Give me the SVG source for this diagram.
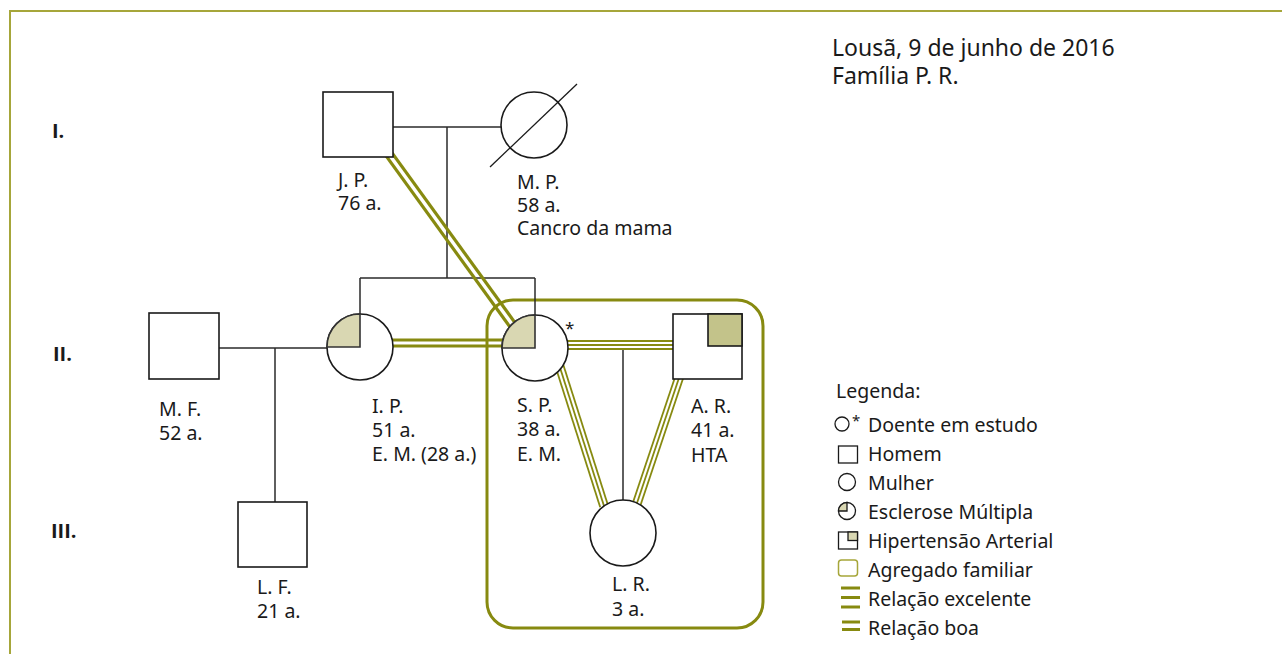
<svg xmlns="http://www.w3.org/2000/svg" width="1282" height="654" viewBox="0 0 1282 654">
<style>
text{font-family:"Noto Sans","Open Sans",sans-serif;font-size:19.5px;fill:#1a1a1a}
.gen{font-family:"Open Sans","Liberation Sans",sans-serif;font-size:20px;font-weight:bold}
.title{font-size:23px}
.fam{stroke:#2a2a2a;stroke-width:1.5;fill:none}
.nd{fill:#fff;stroke:#1a1a1a;stroke-width:1.6}
.ms{fill:#d9d7b2;stroke:#333;stroke-width:1.6}
.hta{fill:#c3c38a;stroke:#1a1a1a;stroke-width:1.6}
.boa{stroke:#878a10;stroke-width:3.2;fill:none}
.exc{stroke:#878a10;stroke-width:1.8;fill:none}
.hh{fill:none;stroke:#878a10;stroke-width:3}
</style>
<g id="frame">
<line x1="10" y1="11" x2="1282" y2="11" stroke="#a6a63a" stroke-width="2"/>
<line x1="10" y1="10" x2="10" y2="654" stroke="#a6a63a" stroke-width="2"/>
</g>
<g id="labels">
<text class="gen" x="52" y="138">I.</text>
<text class="gen" x="53" y="361">II.</text>
<text class="gen" x="51" y="538">III.</text>
<text class="title" x="832" y="56">Lousã, 9 de junho de 2016</text>
<text class="title" x="832" y="84">Família P. R.</text>
</g>
<g id="household">
<rect class="hh" x="487" y="300" width="276" height="328" rx="26"/>
</g>
<g id="connectors">
<polyline class="fam" points="393,127 501,127"/>
<polyline class="fam" points="447,127 447,278"/>
<polyline class="fam" points="360,278 535,278"/>
<polyline class="fam" points="360,278 360,320"/>
<polyline class="fam" points="535,278 535,320"/>
<polyline class="fam" points="219,348 327,348"/>
<polyline class="fam" points="275,348 275,502"/>
<polyline class="fam" points="623,349 623,503"/>
<line class="boa" x1="385.7" y1="144.1" x2="516.7" y2="325.1"/>
<line class="boa" x1="380.3" y1="147.9" x2="511.3" y2="328.9"/>
<line class="boa" x1="380" y1="340" x2="515" y2="340"/>
<line class="boa" x1="380" y1="346" x2="515" y2="346"/>
<line class="exc" x1="560" y1="341" x2="680" y2="341"/>
<line class="exc" x1="560" y1="345" x2="680" y2="345"/>
<line class="exc" x1="560" y1="349" x2="680" y2="349"/>
<line class="exc" x1="556" y1="355" x2="604" y2="506"/>
<line class="exc" x1="559.8" y1="353.8" x2="607.8" y2="504.8"/>
<line class="exc" x1="552.2" y1="356.2" x2="600.2" y2="507.2"/>
<line class="exc" x1="681" y1="372" x2="636" y2="506"/>
<line class="exc" x1="684.8" y1="373.3" x2="639.8" y2="507.3"/>
<line class="exc" x1="677.2" y1="370.7" x2="632.2" y2="504.7"/>
</g>
<g id="JP">
<rect class="nd" x="323" y="92" width="70" height="65"/>
<text x="338" y="187">J. P.</text>
<text x="338" y="210">76 a.</text>
</g>
<g id="MP">
<circle class="nd" cx="534" cy="125" r="33"/>
<line x1="490" y1="167" x2="577" y2="84" stroke="#1a1a1a" stroke-width="1.3"/>
<text x="517" y="189">M. P.</text>
<text x="517" y="212">58 a.</text>
<text x="517" y="235">Cancro da mama</text>
</g>
<g id="MF">
<rect class="nd" x="149" y="313" width="70" height="66"/>
<text x="159" y="416">M. F.</text>
<text x="159" y="440">52 a.</text>
</g>
<g id="IP">
<circle class="nd" cx="360" cy="347" r="33"/>
<path class="ms" d="M360,347 L360,314 A33,33 0 0 0 327,347 Z"/>
<text x="372" y="413">I. P.</text>
<text x="372" y="437">51 a.</text>
<text x="372" y="461">E. M. (28 a.)</text>
</g>
<g id="SP">
<circle class="nd" cx="535" cy="348" r="33"/>
<path class="ms" d="M535,348 L535,315 A33,33 0 0 0 502,348 Z"/>
<text x="565" y="334" style="font-size:17px">*</text>
<text x="517" y="412">S. P.</text>
<text x="517" y="436">38 a.</text>
<text x="517" y="461">E. M.</text>
</g>
<g id="AR">
<rect class="nd" x="673" y="314" width="69" height="65"/>
<rect class="hta" x="708" y="314" width="34" height="32"/>
<text x="691" y="413">A. R.</text>
<text x="691" y="437">41 a.</text>
<text x="691" y="462">HTA</text>
</g>
<g id="LF">
<rect class="nd" x="238" y="502" width="69" height="65"/>
<text x="257" y="594">L. F.</text>
<text x="257" y="618">21 a.</text>
</g>
<g id="LR">
<circle class="nd" cx="623" cy="533" r="33"/>
<text x="612" y="591">L. R.</text>
<text x="612" y="616">3 a.</text>
</g>
<g id="legend">
<text x="836" y="398">Legenda:</text>
<circle cx="842" cy="424" r="7" fill="#fff" stroke="#1a1a1a" stroke-width="1.3"/>
<text x="852" y="426" style="font-size:15px">*</text>
<text x="868" y="432">Doente em estudo</text>
<rect x="838.5" y="446" width="19" height="17" fill="#fff" stroke="#1a1a1a" stroke-width="1.3"/>
<text x="868" y="461">Homem</text>
<circle cx="847" cy="482" r="8.5" fill="#fff" stroke="#1a1a1a" stroke-width="1.3"/>
<text x="868" y="490">Mulher</text>
<circle cx="847" cy="511" r="8.5" fill="#fff" stroke="#1a1a1a" stroke-width="1.3"/>
<path d="M847,511 L847,502.5 A8.5,8.5 0 0 0 838.5,511 Z" fill="#d9d7b2" stroke="#1a1a1a" stroke-width="1.3"/>
<text x="868" y="519">Esclerose Múltipla</text>
<rect x="838.5" y="532" width="19" height="17" fill="#fff" stroke="#1a1a1a" stroke-width="1.3"/>
<rect x="848" y="532" width="9.5" height="8.5" fill="#d9d7b2" stroke="#1a1a1a" stroke-width="1.3"/>
<text x="868" y="548">Hipertensão Arterial</text>
<rect x="838.5" y="560" width="19" height="16" rx="3" fill="#fff" stroke="#a6a63a" stroke-width="1.5"/>
<text x="868" y="577">Agregado familiar</text>
<line x1="841" y1="588" x2="860" y2="588" stroke="#878a10" stroke-width="3"/>
<line x1="841" y1="597.5" x2="860" y2="597.5" stroke="#878a10" stroke-width="3"/>
<line x1="841" y1="607" x2="860" y2="607" stroke="#878a10" stroke-width="3"/>
<text x="868" y="606">Relação excelente</text>
<line x1="842" y1="622" x2="860" y2="622" stroke="#878a10" stroke-width="3"/>
<line x1="842" y1="629.5" x2="860" y2="629.5" stroke="#878a10" stroke-width="3"/>
<text x="868" y="635">Relação boa</text>
</g>
</svg>
